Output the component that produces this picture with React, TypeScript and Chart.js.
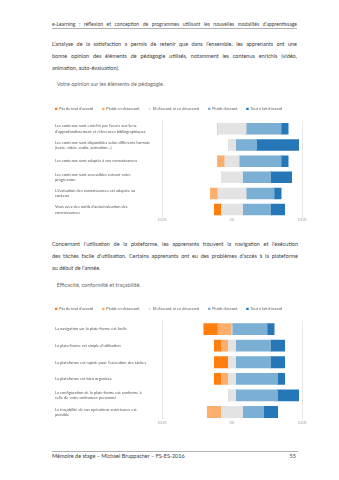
import React, { useEffect, useRef } from "react";
import { Chart, registerables } from "chart.js";

Chart.register(...registerables);

// ---------- data ----------
const legendLabels = [
  "Pas du tout d’accord",
  "Plutôt en désaccord",
  "Ni d’accord, ni en désaccord",
  "Plutôt d’accord",
  "Tout à fait d’accord",
];

const categories1 = [
  ["Les contenus sont enrichis par l’accès aux liens", "d’approfondissement et références bibliographiques"],
  ["Les contenus sont disponibles selon différents formats", "(texte, vidéo, audio, animation…)"],
  ["Les contenus sont adaptés à vos connaissances"],
  ["Les contenus sont accessibles suivant votre", "progression"],
  ["L’évaluation des connaissances est adaptée au", "contenu"],
  ["Vous avez des outils d’autoévaluation des", "connaissances"],
];
const pasDuTout1 = [0, 0, 0, 0, 0, 10];
const plutotDesaccord1 = [0, 0, 10, 0, 10, 0];
const neutre1 = [40, 10, 20, 30, 40, 30];
const plutotAccord1 = [50, 30, 60, 40, 40, 40];
const toutAFait1 = [10, 60, 10, 30, 10, 20];

const categories2 = [
  ["La navigation sur la plate-forme est facile"],
  ["La plate-forme est simple d’utilisation"],
  ["La plateforme est rapide pour l’exécution des tâches"],
  ["La plateforme est bien organisée"],
  ["La configuration de la plate-forme est conforme à", "celle de votre ordinateur personnel"],
  ["La traçabilité de vos opérations antérieures est", "possible"],
];
const pasDuTout2 = [20, 10, 20, 10, 0, 0];
const plutotDesaccord2 = [20, 10, 0, 10, 0, 20];
const neutre2 = [0, 10, 10, 10, 10, 30];
const plutotAccord2 = [50, 50, 50, 60, 60, 30];
const toutAFait2 = [10, 20, 20, 10, 30, 20];

const xTickValues = [-100, 0, 100];

// ---------- styles ----------
const palette = ["#ff7f0e", "#fdae6b", "#e3e3e3", "#7bafd4", "#2677b8"];
const FONT = "Lato, 'Open Sans', sans-serif";

type ChartProps = {
  top: number;
  categories: string[][];
  pas: number[];
  desac: number[];
  neutre: number[];
  accord: number[];
  tout: number[];
};

function DivergingChart({ top, categories, pas, desac, neutre, accord, tout }: ChartProps) {
  const ref = useRef<HTMLCanvasElement>(null);
  useEffect(() => {
    const bar = { barPercentage: 0.65, categoryPercentage: 1, borderWidth: 0, inflateAmount: 0.5 };
    // stacking order: nearest to zero first
    const datasets = [
      { label: legendLabels[2], data: neutre.map((v) => -v / 2), backgroundColor: palette[2], ...bar },
      { label: legendLabels[1], data: desac.map((v) => -v), backgroundColor: palette[1], ...bar },
      { label: legendLabels[0], data: pas.map((v) => -v), backgroundColor: palette[0], ...bar },
      { label: legendLabels[2] + " ", data: neutre.map((v) => v / 2), backgroundColor: palette[2], ...bar },
      { label: legendLabels[3], data: accord, backgroundColor: palette[3], ...bar },
      { label: legendLabels[4], data: tout, backgroundColor: palette[4], ...bar },
    ];
    const rank = [2, 1, 0, 99, 3, 4];
    const chart = new Chart(ref.current!, {
      type: "bar",
      data: { labels: categories, datasets },
      options: {
        indexAxis: "y",
        animation: false,
        responsive: false,
        maintainAspectRatio: false,
        layout: { padding: 0 },
        plugins: {
          tooltip: { enabled: false },
          legend: {
            display: true,
            position: "top",
            align: "start",
            labels: {
              boxWidth: 2.4,
              boxHeight: 2.4,
              padding: 9,
              color: "#595959",
              font: { family: FONT, size: 3.8 },
              filter: (item) => item.datasetIndex !== 3,
              sort: (a, b) => rank[a.datasetIndex!] - rank[b.datasetIndex!],
            },
          },
        },
        scales: {
          x: {
            type: "linear",
            stacked: true,
            min: -100,
            max: 100,
            afterBuildTicks: (s) => {
              s.ticks = xTickValues.map((v) => ({ value: v }));
            },
            ticks: {
              color: "#a6a6a6",
              font: { family: FONT, size: 3.6 },
              padding: 0.5,
              callback: (v) => Math.abs(Number(v)) + "%",
            },
            grid: {
              drawTicks: false,
              color: (c) => (c.tick && c.tick.value === 0 ? "rgba(0,0,0,0)" : "#e8e8e8"),
              lineWidth: 1,
            },
            border: { display: false },
          },
          y: {
            type: "category",
            stacked: true,
            weight: 0,
            grid: { display: false, drawTicks: false },
            border: { display: false },
            ticks: {
              crossAlign: "far",
              color: "#595959",
              font: { family: FONT, size: 4.0, lineHeight: 1.35 },
            },
            afterFit: (s) => {
              s.width = 107;
            },
          },
          padL: {
            type: "linear",
            position: "left",
            weight: 10,
            display: true,
            grid: { display: false, drawTicks: false },
            border: { display: false },
            ticks: { display: false },
            afterFit: (s) => {
              s.width = 9;
            },
          },
          padR: {
            type: "linear",
            position: "right",
            display: true,
            grid: { display: false, drawTicks: false },
            border: { display: false },
            ticks: { display: false },
            afterFit: (s) => {
              s.width = 8;
            },
          },
        },
      },
    });
    return () => chart.destroy();
  }, []);
  return (
    <canvas
      ref={ref}
      width={264}
      height={128}
      style={{ position: "absolute", left: 46, top, width: 264, height: 128 }}
    />
  );
}

type LineProps = {
  x: number;
  y: number;
  w: number;
  size: number;
  color: string;
  justify?: boolean;
  align?: "left" | "right";
  children: React.ReactNode;
};

function TextLine({ x, y, w, size, color, justify, align, children }: LineProps) {
  const lh = 10;
  return (
    <div
      style={{
        position: "absolute",
        left: x,
        top: y - lh / 2,
        width: w,
        height: lh,
        lineHeight: lh + "px",
        fontSize: size,
        color,
        textAlign: justify ? "justify" : align || "left",
        textAlignLast: justify ? "justify" : align || "left",
        whiteSpace: justify ? "normal" : "nowrap",
        overflow: "visible",
      }}
    >
      {children}
    </div>
  );
}

export default function App() {
  const body = "#3c3c3c";
  const bs = 5.5;
  return (
    <div
      style={{
        position: "absolute",
        left: 0,
        top: 0,
        width: 339,
        height: 480,
        background: "#ffffff",
        fontFamily: FONT,
        overflow: "hidden",
      }}
    >
      <TextLine x={52} y={24.3} w={245} size={5.05} color="#444" justify>
        e-Learning : réflexion et conception de programmes utilisant les nouvelles modalités d’apprentissage
      </TextLine>
      <div style={{ position: "absolute", left: 52, top: 28, width: 245, height: 0, borderTop: "1px solid #b0b0b0" }} />

      <TextLine x={52} y={44.3} w={245} size={bs} color={body} justify>
        L’analyse de la satisfaction a permis de retenir que dans l’ensemble, les apprenants ont une
      </TextLine>
      <TextLine x={52} y={56} w={245} size={bs} color={body} justify>
        bonne opinion des éléments de pédagogie utilisés, notamment les contenus enrichis (vidéo,
      </TextLine>
      <TextLine x={52} y={67.7} w={245} size={bs} color={body}>
        animation, auto-évaluation).
      </TextLine>

      <TextLine x={56.7} y={84.3} w={200} size={5.5} color="#6a6a6a">
        Votre opinion sur les éléments de pédagogie.
      </TextLine>

      <DivergingChart
        top={98.3}
        categories={categories1}
        pas={pasDuTout1}
        desac={plutotDesaccord1}
        neutre={neutre1}
        accord={plutotAccord1}
        tout={toutAFait1}
      />

      <TextLine x={52} y={244.3} w={246} size={bs} color={body} justify>
        Concernant l’utilisation de la plateforme, les apprenants trouvent la navigation et l’exécution
      </TextLine>
      <TextLine x={52} y={256} w={246} size={bs} color={body} justify>
        des tâches facile d’utilisation. Certains apprenants ont eu des problèmes d’accès à la plateforme
      </TextLine>
      <TextLine x={52} y={267.7} w={246} size={bs} color={body}>
        au début de l’année.
      </TextLine>

      <TextLine x={56.7} y={285} w={200} size={5.5} color="#6a6a6a">
        Efficacité, conformité et traçabilité.
      </TextLine>

      <DivergingChart
        top={298.3}
        categories={categories2}
        pas={pasDuTout2}
        desac={plutotDesaccord2}
        neutre={neutre2}
        accord={plutotAccord2}
        tout={toutAFait2}
      />

      <div style={{ position: "absolute", left: 52, top: 451, width: 246, height: 0, borderTop: "1px solid #b0b0b0" }} />
      <TextLine x={52} y={455.7} w={200} size={bs} color={body}>
        Mémoire de stage – Michael Bruppacher – FS-ES-2016
      </TextLine>
      <TextLine x={245} y={455.7} w={51} size={bs} color={body} align="right">
        55
      </TextLine>
    </div>
  );
}
